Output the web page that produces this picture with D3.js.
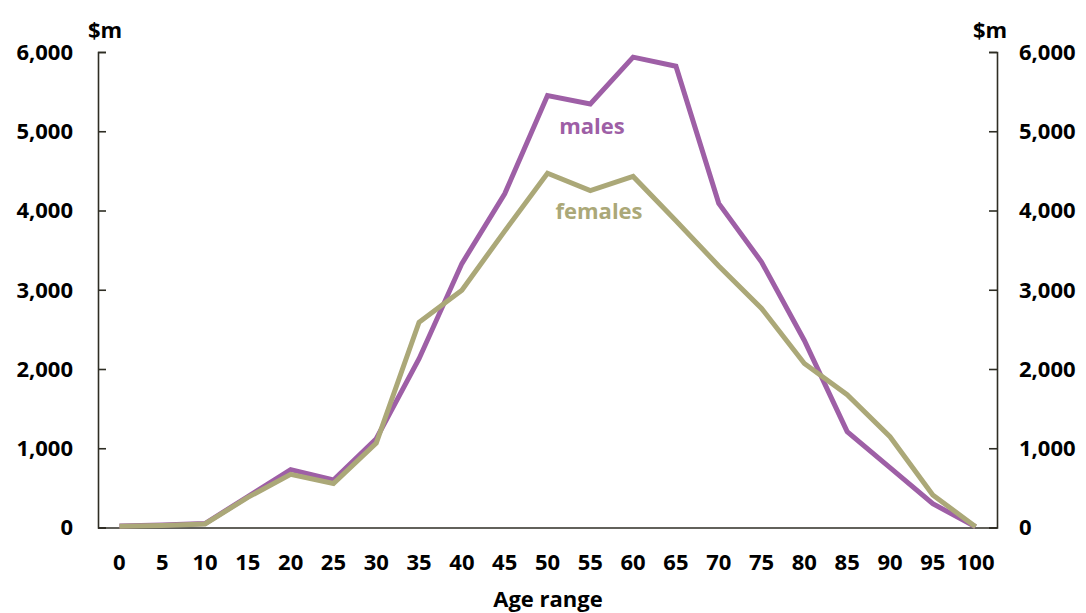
<!DOCTYPE html>
<html>
<head>
<meta charset="utf-8">
<script src="https://cdn.jsdelivr.net/npm/d3@7"></script>
<style>
  html, body { margin: 0; padding: 0; background: #fff; }
  svg text { font-family: "Open Sans", "Noto Sans", sans-serif; font-weight: 700; }
</style>
</head>
<body>
<svg id="chart" width="1086" height="613"></svg>
<script>
// Age ranges (years) along the category axis
const ageRanges = ["0","5","10","15","20","25","30","35","40","45","50","55","60","65","70","75","80","85","90","95","100"];
// Amounts in $m by age range
const males   = [20, 30, 50, 390, 730, 600, 1120, 2130, 3330, 4210, 5450, 5345, 5935, 5820, 4090, 3350, 2360, 1210, 755, 300, 10];
const females = [15, 25, 45, 380, 670, 555, 1065, 2590, 2995, 3740, 4470, 4250, 4430, 3870, 3300, 2765, 2070, 1675, 1145, 410, 10];
const yTicks  = [0, 1000, 2000, 3000, 4000, 5000, 6000];

const colors = { males: "#9E5FA6", females: "#ABA878", axis: "#2E2D24", text: "#000" };
const fontSize = 22;

const svg = d3.select("#chart");
const plot = { left: 98, right: 997, top: 52, bottom: 527.5 };

const x = d3.scaleBand().domain(ageRanges).range([plot.left, plot.right]);
const xc = d => x(d) + x.bandwidth() / 2;
const y = d3.scaleLinear().domain([0, 6000]).range([plot.bottom, plot.top]);
const fmt = d3.format(",");

// Left value axis, ticks pointing into the plot
const leftAxis = svg.append("g")
  .attr("transform", `translate(${plot.left},0)`)
  .call(d3.axisLeft(y).tickValues(yTicks).tickSize(-8).tickPadding(25).tickFormat(fmt));
// Right value axis, mirrored
const rightAxis = svg.append("g")
  .attr("transform", `translate(${plot.right},0)`)
  .call(d3.axisRight(y).tickValues(yTicks).tickSize(-8).tickPadding(22).tickFormat(fmt));

[leftAxis, rightAxis].forEach(g => {
  g.select(".domain").attr("stroke", colors.axis).attr("stroke-width", 1.6);
  g.selectAll(".tick line").attr("stroke", colors.axis).attr("stroke-width", 1.6);
  g.selectAll(".tick text").attr("fill", colors.text).attr("font-size", fontSize).attr("dy", "0.34em");
});

// Category axis along the zero line
const bottomAxis = svg.append("g")
  .attr("transform", `translate(0,${plot.bottom})`)
  .call(d3.axisBottom(x).tickSize(0).tickPadding(27));
bottomAxis.select(".domain").attr("stroke", colors.axis).attr("stroke-width", 1.6);
bottomAxis.selectAll(".tick text").attr("fill", colors.text).attr("font-size", fontSize);

// Series lines
const line = d3.line().x((d, i) => xc(ageRanges[i])).y(d => y(d));
[["males", males], ["females", females]].forEach(([key, vals]) => {
  svg.append("path")
    .datum(vals)
    .attr("fill", "none")
    .attr("stroke", colors[key])
    .attr("stroke-width", 5)
    .attr("stroke-linejoin", "miter")
    .attr("d", line);
});

// Series labels
svg.append("text").attr("x", 592).attr("y", 134).attr("text-anchor", "middle")
  .attr("font-size", fontSize).attr("fill", colors.males).text("males");
svg.append("text").attr("x", 599).attr("y", 219).attr("text-anchor", "middle")
  .attr("font-size", fontSize).attr("fill", colors.females).text("females");

// Unit labels and axis title
svg.append("text").attr("x", 105).attr("y", 38).attr("text-anchor", "middle")
  .attr("font-size", fontSize).attr("fill", colors.text).text("$m");
svg.append("text").attr("x", 990).attr("y", 38).attr("text-anchor", "middle")
  .attr("font-size", fontSize).attr("fill", colors.text).text("$m");
svg.append("text").attr("x", 548).attr("y", 607).attr("text-anchor", "middle")
  .attr("font-size", fontSize).attr("fill", colors.text).text("Age range");
</script>
</body>
</html>
